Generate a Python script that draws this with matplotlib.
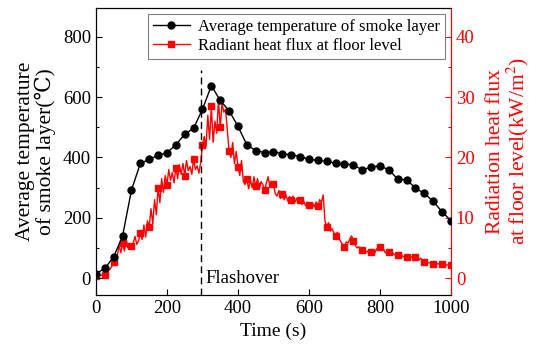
import numpy as np
import matplotlib
matplotlib.use("Agg")
import matplotlib.pyplot as plt
from matplotlib.ticker import MultipleLocator

plt.rcParams['font.family'] = ['Liberation Serif', 'DejaVu Serif']
plt.rcParams['mathtext.fontset'] = 'stix'

# smoke layer temperature, every 25 s
temp_time = np.arange(0, 1001, 25)
temp_vals = [15, 32, 71, 140, 292, 380, 394, 407, 416, 442, 477, 497, 560, 638, 589,
             555, 503, 442, 423, 416, 419, 412, 409, 403, 394, 390, 387, 381, 379, 375,
             359, 368, 372, 359, 328, 326, 298, 281, 254, 220, 190]

# radiant heat flux at floor level, every 5 s
flux_time = np.arange(0, 1001, 5)
flux_vals = [0.3, 0.4, 0.4, 0.5, 0.6, 0.5, 0.8, 1.2, 1.5, 2.0,
             2.6, 3.0, 3.6, 5.5, 4.2, 5.8, 4.5, 6.5, 5.0, 5.6,
             5.4, 5.8, 6.9, 5.6, 6.2, 7.5, 6.4, 8.8, 6.8, 9.5,
             8.5, 11.5, 9.0, 13.0, 10.5, 15.0, 12.5, 16.5, 14.2, 17.0,
             15.5, 18.0, 16.2, 17.5, 15.8, 18.3, 16.5, 18.8, 17.2, 19.0,
             17.0, 19.5, 17.8, 18.5, 17.2, 19.8, 18.0, 18.6, 17.4, 19.2,
             22.0, 23.5, 21.8, 27.0, 23.0, 28.5, 22.5, 26.0, 24.0, 29.5,
             25.0, 29.0, 27.5, 28.0, 24.5, 21.0, 20.0, 22.5, 19.0, 21.0,
             18.5, 17.0, 19.5, 16.0, 15.5, 16.5, 14.8, 16.2, 15.0, 16.8,
             15.2, 16.5, 14.8, 16.0, 15.5, 14.6, 15.8, 16.8, 15.0, 16.0,
             15.6, 14.0, 13.6, 14.5, 13.2, 14.0, 13.0, 13.8, 12.8, 13.5,
             13.0, 13.6, 12.6, 13.2, 12.4, 13.0, 12.2, 12.8, 12.0, 12.6,
             12.2, 11.6, 12.4, 11.8, 12.6, 12.0, 13.0, 12.5, 13.8, 9.5,
             8.5, 9.2, 7.8, 8.2, 7.5, 7.0, 7.6, 6.5, 6.0, 5.5,
             5.2, 6.0, 5.8, 6.5, 7.0, 6.2, 5.5, 5.0, 5.2, 4.8,
             4.6, 4.8, 4.2, 4.5, 4.0, 4.3, 4.6, 4.1, 4.8, 5.0,
             5.2, 4.6, 4.8, 4.2, 4.5, 4.4, 4.0, 4.2, 3.9, 3.8,
             3.8, 3.6, 3.9, 3.5, 3.7, 3.5, 3.4, 3.6, 3.5, 3.3,
             3.5, 3.2, 3.0, 3.3, 2.9, 2.7, 2.9, 2.6, 2.5, 2.6,
             2.4, 2.5, 2.3, 2.4, 2.2, 2.3, 2.2, 2.1, 2.2, 2.2,
             2.2]

flashover_t = 295

fig = plt.figure(figsize=(5.5, 3.58), dpi=100)
ax = fig.add_axes([0.1745, 0.176, 0.6455, 0.802])
ax2 = ax.twinx()

l1, = ax.plot(temp_time, temp_vals, color='black', lw=1, marker='o', ms=5,
              label='Average temperature of smoke layer', zorder=3)
l2, = ax2.plot(flux_time, flux_vals, color='red', lw=1, marker='s', ms=4.5,
               markevery=5, label='Radiant heat flux at floor level')
ax.set_zorder(ax2.get_zorder() + 1)
ax.patch.set_visible(False)

ax.plot([flashover_t, flashover_t], [-56, 690], color='black', lw=1, ls=(0, (5, 3)))
ax.text(flashover_t + 12, 0, 'Flashover', fontsize=13.5, va='center', ha='left')

ax.set_xlim(0, 1000)
ax.set_ylim(-56, 896)
ax2.set_ylim(-2.8, 44.8)
ax.set_xticks([0, 200, 400, 600, 800, 1000])
ax.set_yticks([0, 200, 400, 600, 800])
ax.yaxis.set_minor_locator(MultipleLocator(100))
ax2.set_yticks([0, 10, 20, 30, 40])
ax2.yaxis.set_minor_locator(MultipleLocator(5))

ax.tick_params(direction='in', labelsize=13.5, length=4, width=0.8)
ax.tick_params(which='minor', direction='in', length=2.5, width=0.8)
ax.tick_params(axis='y', which='both', right=False)
ax2.tick_params(direction='in', labelsize=13.5, length=4, width=0.8, colors='red')
ax2.tick_params(which='minor', direction='in', length=2.5, width=0.8, colors='red')
ax2.spines['right'].set_color('red')
ax.spines['right'].set_color('red')

ax.set_xlabel('Time (s)', fontsize=14)
ax.set_ylabel('Average temperature\nof smoke layer(\u2103)', fontsize=15.5, linespacing=1.0,
              labelpad=5)
ax2.set_ylabel('Radiation heat flux\nat floor level(kW/m$^2$)', fontsize=15.5,
               color='red', linespacing=1.0, labelpad=8)

leg = ax.legend(handles=[l1, l2], loc='upper right', fontsize=12, fancybox=False,
                edgecolor='gray', framealpha=1, borderpad=0.3, handlelength=2.2,
                labelspacing=0.2, borderaxespad=0.35, handletextpad=0.5)
leg.get_frame().set_linewidth(0.8)

fig.savefig('out.png', dpi=100)
